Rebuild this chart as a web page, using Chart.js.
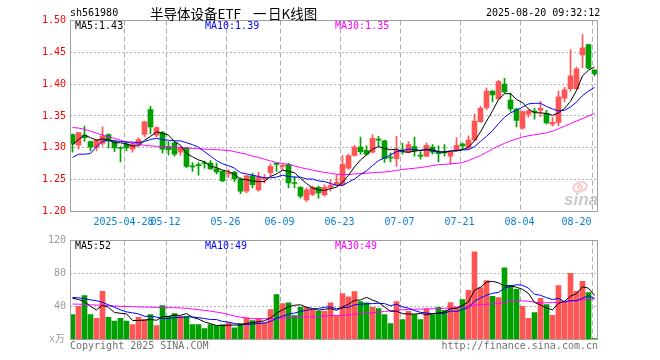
<!DOCTYPE html>
<html>
<head>
<meta charset="utf-8">
<title>半导体设备ETF 日K线图</title>
<script src="https://cdn.jsdelivr.net/npm/chart.js@4/dist/chart.umd.min.js"></script>
<style>
  html, body { margin:0; padding:0; background:#ffffff; }
  #wrap { position:relative; width:660px; height:360px; overflow:hidden; background:#fff; }
  #wrap canvas { position:absolute; left:0; top:0; }
</style>
</head>
<body>
<div id="wrap">
  <canvas id="kline" width="660" height="360"></canvas>
  <canvas id="vol" width="660" height="360"></canvas>
</div>
<script>
// ---------------- data ----------------
const stockCode = 'sh561980';
const chartTitleParts = ['半导体设备ETF', '一', '日K线图'];
const timestamp = '2025-08-20 09:32:12';
const priceMaLabels = ['MA5:1.43', 'MA10:1.39', 'MA30:1.35'];
const volMaLabels = ['MA5:52', 'MA10:49', 'MA30:49'];

const dates = [
 '2025-04-15','2025-04-16','2025-04-17','2025-04-18','2025-04-21','2025-04-22','2025-04-23','2025-04-24','2025-04-25','2025-04-28',
 '2025-04-29','2025-04-30','2025-05-06','2025-05-07','2025-05-08','2025-05-09','2025-05-12','2025-05-13','2025-05-14','2025-05-15',
 '2025-05-16','2025-05-19','2025-05-20','2025-05-21','2025-05-22','2025-05-23','2025-05-26','2025-05-27','2025-05-28','2025-05-29',
 '2025-05-30','2025-06-03','2025-06-04','2025-06-05','2025-06-06','2025-06-09','2025-06-10','2025-06-11','2025-06-12','2025-06-13',
 '2025-06-16','2025-06-17','2025-06-18','2025-06-19','2025-06-20','2025-06-23','2025-06-24','2025-06-25','2025-06-26','2025-06-27',
 '2025-06-30','2025-07-01','2025-07-02','2025-07-03','2025-07-04','2025-07-07','2025-07-08','2025-07-09','2025-07-10','2025-07-11',
 '2025-07-14','2025-07-15','2025-07-16','2025-07-17','2025-07-18','2025-07-21','2025-07-22','2025-07-23','2025-07-24','2025-07-25',
 '2025-07-28','2025-07-29','2025-07-30','2025-07-31','2025-08-01','2025-08-04','2025-08-05','2025-08-06','2025-08-07','2025-08-08',
 '2025-08-11','2025-08-12','2025-08-13','2025-08-14','2025-08-15','2025-08-18','2025-08-19','2025-08-20'
];

const open = [
 1.321,1.304,1.320,1.310,1.301,1.307,1.321,1.310,1.300,1.306,
 1.298,1.306,1.321,1.360,1.320,1.324,1.301,1.308,1.293,1.300,
 1.271,1.273,1.276,1.276,1.267,1.263,1.259,1.262,1.251,1.232,
 1.256,1.234,1.251,1.261,1.275,1.271,1.274,1.245,1.238,1.218,
 1.227,1.238,1.226,1.238,1.242,1.242,1.268,1.288,1.301,1.296,
 1.293,1.313,1.311,1.285,1.283,1.296,1.293,1.302,1.288,1.287,
 1.301,1.292,1.293,1.287,1.296,1.306,1.300,1.312,1.341,1.363,
 1.389,1.377,1.400,1.375,1.361,1.331,1.353,1.357,1.359,1.354,
 1.337,1.340,1.378,1.393,1.393,1.446,1.462,1.422
];
const high = [
 1.322,1.324,1.334,1.311,1.313,1.333,1.322,1.312,1.302,1.310,
 1.308,1.316,1.342,1.365,1.333,1.326,1.310,1.309,1.302,1.301,
 1.277,1.277,1.279,1.280,1.276,1.264,1.266,1.263,1.253,1.257,
 1.260,1.262,1.258,1.275,1.276,1.275,1.276,1.255,1.239,1.237,
 1.240,1.240,1.242,1.250,1.258,1.288,1.290,1.304,1.317,1.303,
 1.321,1.318,1.312,1.292,1.318,1.307,1.310,1.317,1.294,1.308,
 1.305,1.303,1.305,1.294,1.316,1.308,1.319,1.353,1.365,1.394,
 1.390,1.406,1.409,1.386,1.362,1.358,1.360,1.362,1.373,1.359,
 1.348,1.389,1.395,1.454,1.427,1.478,1.462,1.423
];
const low = [
 1.293,1.298,1.310,1.295,1.295,1.303,1.300,1.294,1.278,1.295,
 1.293,1.304,1.317,1.322,1.317,1.292,1.289,1.287,1.288,1.269,
 1.263,1.257,1.268,1.266,1.259,1.247,1.253,1.247,1.228,1.229,
 1.237,1.232,1.245,1.255,1.263,1.265,1.237,1.237,1.221,1.216,
 1.225,1.221,1.224,1.232,1.240,1.240,1.266,1.287,1.290,1.289,
 1.292,1.303,1.277,1.278,1.271,1.290,1.292,1.287,1.282,1.286,
 1.290,1.278,1.287,1.274,1.295,1.297,1.298,1.311,1.340,1.360,
 1.372,1.377,1.386,1.357,1.333,1.329,1.348,1.345,1.349,1.337,
 1.334,1.335,1.372,1.389,1.391,1.426,1.424,1.413
];
const close = [
 1.306,1.324,1.316,1.301,1.312,1.318,1.311,1.300,1.299,1.300,
 1.305,1.313,1.341,1.333,1.332,1.298,1.297,1.290,1.300,1.271,
 1.270,1.272,1.275,1.267,1.262,1.248,1.261,1.251,1.232,1.256,
 1.242,1.254,1.253,1.271,1.274,1.272,1.245,1.244,1.224,1.234,
 1.238,1.229,1.238,1.241,1.246,1.274,1.288,1.301,1.294,1.290,
 1.315,1.312,1.283,1.284,1.296,1.295,1.305,1.295,1.287,1.304,
 1.293,1.291,1.292,1.293,1.304,1.303,1.312,1.342,1.362,1.389,
 1.383,1.404,1.388,1.361,1.343,1.357,1.358,1.356,1.362,1.339,
 1.340,1.380,1.391,1.413,1.424,1.457,1.425,1.416
];
const ma5 = [
 1.305,1.313,1.320,1.316,1.312,1.314,1.312,1.308,1.308,1.306,
 1.303,1.303,1.312,1.318,1.325,1.323,1.320,1.310,1.304,1.291,
 1.286,1.281,1.278,1.271,1.269,1.265,1.263,1.258,1.251,1.250,
 1.248,1.247,1.247,1.255,1.259,1.265,1.263,1.261,1.252,1.244,
 1.237,1.234,1.233,1.236,1.238,1.246,1.257,1.270,1.281,1.289,
 1.298,1.302,1.299,1.297,1.298,1.294,1.293,1.295,1.296,1.297,
 1.297,1.294,1.293,1.295,1.295,1.297,1.301,1.311,1.325,1.342,
 1.358,1.376,1.385,1.385,1.376,1.371,1.361,1.355,1.355,1.354,
 1.351,1.355,1.362,1.373,1.390,1.413,1.422,1.427
];
const ma10 = [
 1.285,1.290,1.290,1.291,1.302,1.310,1.312,1.311,1.310,1.309,
 1.309,1.308,1.310,1.313,1.315,1.313,1.312,1.311,1.311,1.308,
 1.305,1.301,1.294,1.287,1.280,1.275,1.272,1.268,1.261,1.259,
 1.257,1.255,1.253,1.253,1.254,1.257,1.255,1.254,1.254,1.251,
 1.251,1.248,1.247,1.244,1.241,1.241,1.246,1.251,1.258,1.264,
 1.272,1.280,1.284,1.289,1.294,1.296,1.298,1.297,1.296,1.298,
 1.295,1.293,1.294,1.295,1.296,1.297,1.297,1.302,1.310,1.318,
 1.327,1.338,1.348,1.355,1.359,1.364,1.369,1.370,1.370,1.365,
 1.361,1.358,1.359,1.364,1.372,1.382,1.389,1.395
];
const ma30 = [
 1.332,1.331,1.329,1.326,1.323,1.320,1.317,1.315,1.312,1.309,
 1.307,1.305,1.304,1.303,1.3025,1.302,1.302,1.301,1.3005,1.300,
 1.299,1.2985,1.298,1.2975,1.297,1.2965,1.296,1.294,1.292,1.290,
 1.287,1.285,1.282,1.2795,1.277,1.2755,1.274,1.2715,1.269,1.267,
 1.265,1.263,1.2615,1.260,1.2585,1.258,1.258,1.259,1.2595,1.260,
 1.261,1.2615,1.262,1.263,1.2645,1.266,1.267,1.268,1.269,1.2705,
 1.272,1.2735,1.274,1.275,1.2755,1.277,1.280,1.284,1.288,1.293,
 1.298,1.303,1.307,1.311,1.314,1.317,1.319,1.3205,1.322,1.3235,
 1.326,1.330,1.334,1.338,1.342,1.346,1.350,1.354
];
const volume = [
 30.2,40.3,53.2,30.2,25.8,58.4,27.0,22.2,25.8,22.2,
 18.1,27.0,24.2,30.2,16.9,41.1,28.2,31.4,28.2,28.2,
 18.1,18.1,13.3,18.1,16.9,18.1,20.1,14.1,19.3,26.2,
 23.0,25.0,20.1,36.3,54.4,43.5,44.3,29.0,39.1,39.1,
 36.3,34.2,34.2,44.3,28.2,55.6,51.6,58.0,45.9,44.3,
 39.1,37.5,30.2,19.3,45.9,24.2,34.2,30.2,24.2,37.1,
 30.2,39.1,35.5,44.7,39.5,48.3,59.6,106.3,62.8,71.3,
 52.4,50.8,87.0,65.3,60.8,40.3,25.8,32.6,50.0,42.3,
 29.4,65.3,45.1,80.2,58.4,70.5,56.8,1.2
];
const volMa5 = [
 50.0,48.5,46.0,40.0,35.9,41.6,38.9,32.7,31.8,31.1,
 23.1,23.1,23.5,24.3,23.3,27.9,28.1,29.6,29.2,31.4,
 26.8,24.8,21.2,19.2,16.9,16.9,17.3,17.5,17.7,19.6,
 20.5,21.5,22.7,26.1,31.8,35.9,39.7,41.5,42.1,39.0,
 37.6,35.5,36.6,37.6,35.4,39.3,42.8,47.5,47.9,51.1,
 47.8,45.0,39.4,34.1,34.4,31.4,30.8,30.8,31.7,30.0,
 31.2,32.2,33.2,37.3,37.8,41.4,45.5,59.7,63.3,69.7,
 70.5,68.7,64.9,65.4,63.3,60.8,55.8,45.0,41.9,38.2,
 36.0,43.9,46.4,52.5,55.7,63.9,62.2,53.4
];
const volMa10 = [
 51.0,50.5,49.5,48.0,47.0,45.0,42.0,39.0,36.0,33.5,
 32.3,31.0,28.1,28.1,27.2,25.5,25.6,26.5,26.8,27.4,
 27.4,26.5,25.4,24.2,24.2,21.9,21.1,19.3,18.4,18.2,
 18.7,19.4,20.1,21.9,25.7,28.2,30.6,32.1,34.1,35.4,
 36.7,37.6,39.0,39.8,37.2,38.4,39.2,42.1,42.7,43.3,
 43.5,43.9,43.5,41.0,42.7,39.6,37.9,35.1,32.9,32.2,
 31.3,31.5,32.0,34.5,33.9,36.3,38.8,46.5,50.3,53.7,
 56.0,57.1,62.3,64.3,66.5,65.7,62.3,54.9,53.6,50.7,
 48.4,49.9,45.7,47.2,46.9,50.0,53.1,49.9
];
const volMa30 = [
 43.0,42.8,42.5,42.0,41.8,41.5,41.0,40.5,40.2,40.0,
 39.8,39.5,39.3,39.1,39.0,38.8,38.6,38.5,38.3,37.8,
 37.0,36.2,35.3,34.4,33.2,32.0,30.3,28.5,27.0,26.0,
 25.4,25.3,25.3,25.5,25.8,26.0,26.2,26.5,26.9,27.2,
 27.5,28.0,28.5,29.0,29.0,29.3,29.8,30.6,31.2,31.8,
 32.4,33.2,34.0,34.8,35.5,36.0,36.4,36.7,36.9,37.0,
 37.2,37.5,37.8,38.2,38.7,39.1,40.3,41.5,42.2,42.7,
 43.1,43.8,45.0,46.2,47.1,46.9,46.3,45.3,44.3,44.5,
 44.8,45.1,45.5,46.6,47.5,48.2,48.8,49.3
];
const priceTicks = [1.20, 1.25, 1.30, 1.35, 1.40, 1.45, 1.50];
const volTicks = [0, 40, 80, 120];
const xTickDates = ['2025-04-28','2025-05-12','2025-05-26','2025-06-09','2025-06-23','2025-07-07','2025-07-21','2025-08-04','2025-08-20'];
const xTickLabels = ['2025-04-28','05-12','05-26','06-09','06-23','07-07','07-21','08-04','08-20'];

// ---------------- styling ----------------
const UP = '#ff5555', DOWN = '#00a000';
const MONO = '"DejaVu Sans Mono", "Liberation Mono", monospace';
const N = dates.length;
const candleColor = close.map((c, i) => (c >= open[i] ? UP : DOWN));
const xTickValues = xTickDates.map(d => dates.indexOf(d) - 1 / 3);
const X_MIN = -2.5 / 6, X_MAX = (N - 1) + 3.5 / 6;
const titleX = [150, 253, 268];

function pts(arr) { return arr.map((v, i) => ({ x: i, y: v })); }
function maLine(arr, color, order) {
  return { type: 'line', data: pts(arr), borderColor: color, borderWidth: 1, pointRadius: 0,
           tension: 0, fill: false, order: order };
}
function xScale() {
  return {
    type: 'linear', min: X_MIN, max: X_MAX, offset: false,
    afterBuildTicks: s => { s.ticks = xTickValues.map(v => ({ value: v })); },
    afterFit: s => { s.height = 0; },
    ticks: { display: false },
    grid: { color: '#ababab', lineWidth: 1, drawTicks: false, offset: false },
    border: { display: false, dash: [5, 3] }
  };
}
function frame(chart) {
  const { ctx, chartArea: ca } = chart;
  const l = Math.round(ca.left) + 0.5, t = Math.round(ca.top - 0.5) + 0.5;
  const r = Math.round(ca.right) - 0.5, b = Math.round(ca.bottom - 0.5) + 0.5;
  ctx.save();
  ctx.strokeStyle = '#a0a0a0'; ctx.lineWidth = 1;
  ctx.strokeRect(l, t, r - l, b - t);
  ctx.restore();
}

// ---------------- K-line chart ----------------
const kPlugin = {
  id: 'kDecor',
  beforeDatasetsDraw(chart) {
    const ctx = chart.ctx;
    ctx.save();
    ctx.strokeStyle = 'rgba(232,140,140,0.45)'; ctx.lineWidth = 2;
    ctx.beginPath(); ctx.ellipse(580, 187, 7, 4.5, -0.3, 0, Math.PI * 2); ctx.stroke();
    ctx.beginPath(); ctx.arc(580, 187, 2, 0, Math.PI * 2); ctx.stroke();
    ctx.fillStyle = 'rgba(165,165,165,0.6)';
    ctx.font = 'italic bold 17px "Liberation Sans", Arial, sans-serif';
    ctx.textBaseline = 'alphabetic'; ctx.textAlign = 'left';
    ctx.fillText('sina', 564, 205);
    ctx.restore();
  },
  afterDraw(chart) {
    const { ctx, chartArea: ca } = chart;
    frame(chart);
    ctx.save();
    ctx.textBaseline = 'middle'; ctx.textAlign = 'left';
    ctx.font = '10px ' + MONO; ctx.fillStyle = '#000';
    ctx.fillText(stockCode, 70, 13.5);
    ctx.fillText(timestamp, 486, 13.5);
    ctx.font = '13.5px "Noto Sans CJK SC", sans-serif';
    chartTitleParts.forEach((t, k) => ctx.fillText(t, titleX[k], 13.5));
    ctx.font = '10px ' + MONO;
    ctx.fillStyle = '#000000'; ctx.fillText(priceMaLabels[0], 75, 26.5);
    ctx.fillStyle = '#0000ff'; ctx.fillText(priceMaLabels[1], 205, 26.5);
    ctx.fillStyle = '#ff00ff'; ctx.fillText(priceMaLabels[2], 335, 26.5);
    // date labels under the price panel
    const xs = chart.scales.x;
    ctx.fillStyle = '#0a80d0'; ctx.textAlign = 'center';
    xTickValues.forEach((v, k) => {
      const lx = xs.getPixelForValue(v);
      const label = xTickLabels[k];
      const w = ctx.measureText(label).width;
      let cx = lx - 1;
      if (cx + w / 2 > ca.right) cx = lx - 1 - w / 2;
      ctx.fillText(label, cx, 222);
    });
    ctx.restore();
  }
};

new Chart(document.getElementById('kline'), {
  type: 'bar',
  data: {
    datasets: [
      maLine(ma5, '#000000', 0),
      maLine(ma10, '#0000ff', 1),
      maLine(ma30, '#ff00ff', 2),
      { type: 'bar', data: dates.map((d, i) => ({ x: i, y: [open[i], close[i]] })),
        backgroundColor: candleColor, borderWidth: 0, barThickness: 5, minBarLength: 1,
        grouped: false, order: 3 },
      { type: 'bar', data: dates.map((d, i) => ({ x: i, y: [low[i], high[i]] })),
        backgroundColor: candleColor, borderWidth: 0, barThickness: 1, minBarLength: 1,
        grouped: false, order: 4 }
    ]
  },
  options: {
    responsive: false, animation: false, devicePixelRatio: 1, events: [],
    layout: { padding: { left: 0, right: 62, top: 20.5, bottom: 148.5 } },
    plugins: { legend: { display: false }, tooltip: { enabled: false } },
    scales: {
      x: xScale(),
      y: {
        type: 'linear', min: 1.20, max: 1.50, position: 'left',
        afterBuildTicks: s => { s.ticks = priceTicks.map(v => ({ value: v })); },
        afterFit: s => { s.width = 70; },
        ticks: { color: '#ff0000', font: { family: MONO, size: 10 }, padding: 4,
                 callback: v => Number(v).toFixed(2), autoSkip: false },
        grid: { color: '#b4b4b4', drawTicks: false },
        border: { display: false, dash: [2, 2] }
      }
    }
  },
  plugins: [kPlugin]
});

// ---------------- volume chart ----------------
const vPlugin = {
  id: 'vDecor',
  afterDraw(chart) {
    const { ctx, chartArea: ca } = chart;
    frame(chart);
    ctx.save();
    ctx.textBaseline = 'middle'; ctx.textAlign = 'left';
    ctx.font = '10px ' + MONO;
    ctx.fillStyle = '#000000'; ctx.fillText(volMaLabels[0], 75, 246);
    ctx.fillStyle = '#0000ff'; ctx.fillText(volMaLabels[1], 205, 246);
    ctx.fillStyle = '#ff00ff'; ctx.fillText(volMaLabels[2], 335, 246);
    ctx.fillStyle = '#a0a0a0'; ctx.textAlign = 'right';
    ctx.font = '10px ' + MONO + ', "Noto Sans CJK SC"';
    ctx.fillText('x万', 65, 339);
    ctx.fillStyle = '#707070'; ctx.textAlign = 'left';
    ctx.font = '10px ' + MONO;
    ctx.fillText('Copyright 2025 SINA.COM', 70, 346.5);
    ctx.textAlign = 'right';
    ctx.fillText('http://finance.sina.com.cn', 598, 346.5);
    ctx.restore();
  }
};

new Chart(document.getElementById('vol'), {
  type: 'bar',
  data: {
    datasets: [
      maLine(volMa5, '#000000', 0),
      maLine(volMa10, '#0000ff', 1),
      maLine(volMa30, '#ff00ff', 2),
      { type: 'bar', data: pts(volume), backgroundColor: candleColor, borderWidth: 0,
        barThickness: 5, minBarLength: 1, grouped: false, order: 3 }
    ]
  },
  options: {
    responsive: false, animation: false, devicePixelRatio: 1, events: [],
    layout: { padding: { left: 0, right: 62, top: 240.5, bottom: 20.5 } },
    plugins: { legend: { display: false }, tooltip: { enabled: false } },
    scales: {
      x: xScale(),
      y: {
        type: 'linear', min: 0, max: 120, position: 'left',
        afterBuildTicks: s => { s.ticks = volTicks.map(v => ({ value: v })); },
        afterFit: s => { s.width = 70; },
        ticks: { color: '#999999', font: { family: MONO, size: 10 }, padding: 4,
                 callback: v => (v === 0 ? '' : String(v)), autoSkip: false },
        grid: { color: '#b4b4b4', drawTicks: false },
        border: { display: false, dash: [2, 2] }
      }
    }
  },
  plugins: [vPlugin]
});
</script>
</body>
</html>
